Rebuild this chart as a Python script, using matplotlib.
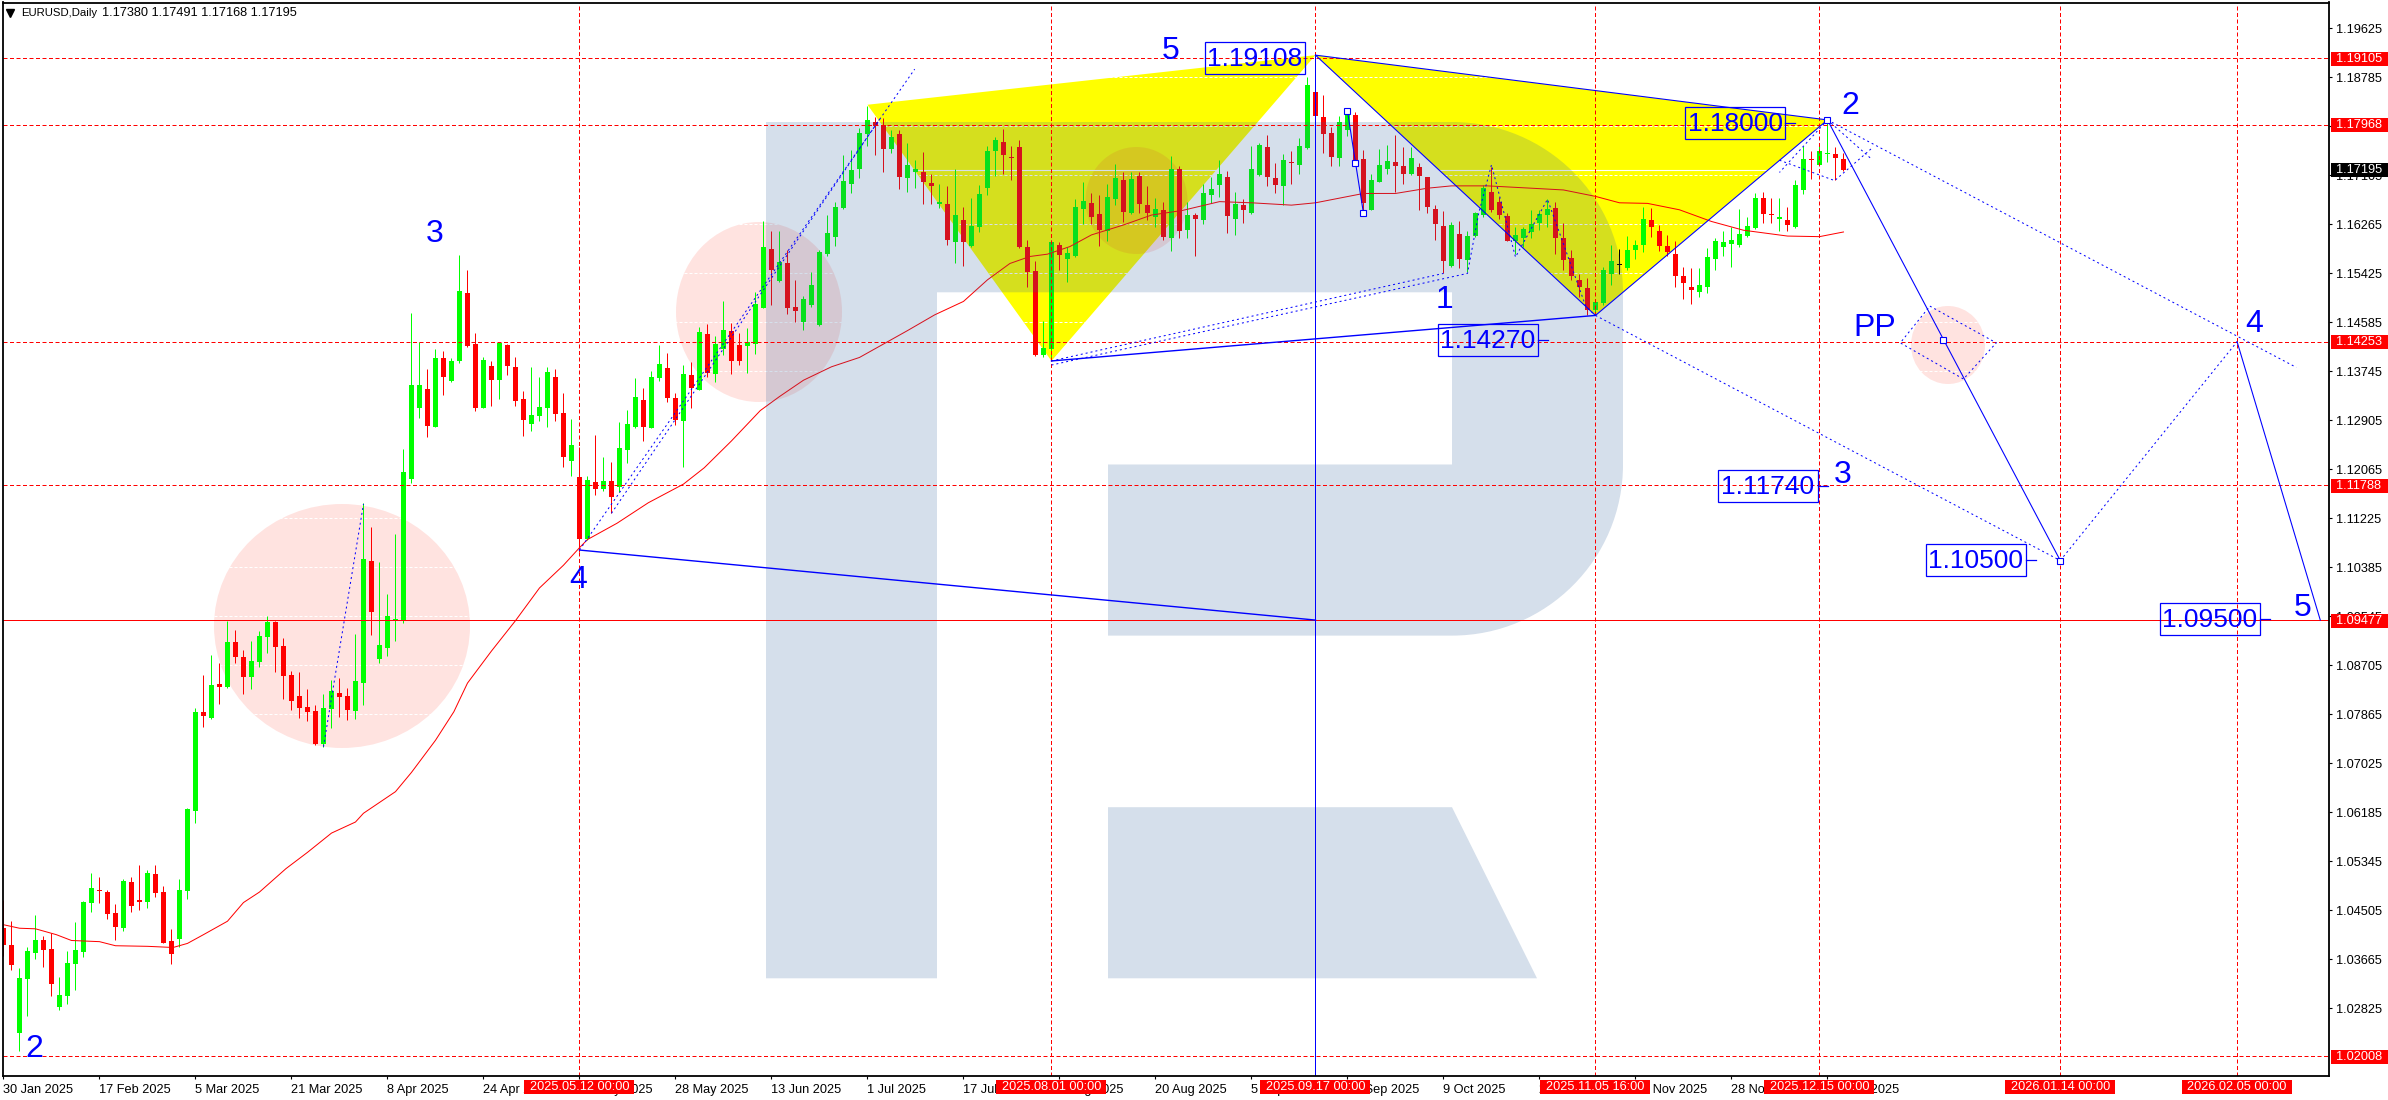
import matplotlib
matplotlib.use('Agg')
import matplotlib.pyplot as plt
from matplotlib.patches import Rectangle, Ellipse, PathPatch
from matplotlib.path import Path
from matplotlib.transforms import Affine2D
import numpy as np

plt.rcParams['font.family'] = ['Liberation Sans', 'DejaVu Sans']

# daily candles, 30 Jan 2025 to the last bar
opens = [
    1.0421,1.0392,1.0241,1.0333,1.0378,1.0400,1.0385,1.0285,1.0304,1.0359,
    1.0380,1.0463,1.0485,1.0482,1.0446,1.0421,1.0499,1.0468,1.0465,1.0513,
    1.0482,1.0398,1.0402,1.0484,1.0621,1.0790,1.0781,1.0839,1.0833,1.0910,
    1.0885,1.0850,1.0877,1.0919,1.0945,1.0903,1.0854,1.0818,1.0799,1.0792,
    1.0736,1.0796,1.0823,1.0818,1.0792,1.0841,1.1050,1.0881,1.0901,1.0948,
    1.0946,1.1189,1.1312,1.1344,1.1279,1.1397,1.1358,1.1392,1.1509,1.1421,
    1.1312,1.1383,1.1360,1.1419,1.1381,1.1327,1.1284,1.1298,1.1312,1.1364,
    1.1302,1.1220,1.1193,1.1087,1.1184,1.1173,1.1186,1.1176,1.1239,1.1279,
    1.1325,1.1277,1.1363,1.1380,1.1329,1.1289,1.1368,1.1342,1.1438,1.1370,
    1.1413,1.1443,1.1419,1.1418,1.1421,1.1483,1.1584,1.1529,1.1560,1.1484,
    1.1458,1.1488,1.1454,1.1575,1.1605,1.1654,1.1696,1.1721,1.1781,1.1801,
    1.1797,1.1755,1.1781,1.1705,1.1715,1.1716,1.1697,1.1661,1.1661,1.1596,
    1.1634,1.1589,1.1622,1.1689,1.1752,1.1767,1.1740,1.1759,1.1587,1.1546,
    1.1402,1.1413,1.1591,1.1567,1.1571,1.1652,1.1662,1.1644,1.1615,1.1670,
    1.1702,1.1646,1.1709,1.1659,1.1639,1.1651,1.1603,1.1721,1.1616,1.1642,
    1.1634,1.1676,1.1694,1.1707,1.1635,1.1659,1.1645,1.1711,1.1759,1.1705,
    1.1692,1.1733,1.1728,1.1757,1.1853,1.1810,1.1783,1.1739,1.1788,1.1813,
    1.1738,1.1651,1.1699,1.1721,1.1733,1.1726,1.1712,1.1724,1.1707,1.1652,
    1.1623,1.1555,1.1610,1.1565,1.1606,1.1642,1.1682,1.1664,1.1640,1.1597,
    1.1602,1.1613,1.1628,1.1642,1.1654,1.1602,1.1568,1.1531,1.1517,1.1479,
    1.1491,1.1541,1.1556,1.1552,1.1582,1.1590,1.1634,1.1615,1.1589,1.1575,
    1.1538,1.1518,1.1511,1.1518,1.1567,1.1588,1.1592,1.1591,1.1606,1.1619,
    1.1671,1.1643,1.1635,1.1634,1.1621,1.1685,1.1738,1.1728,1.1747,1.1747,1.1738]
closes = [
    1.0392,1.0357,1.0335,1.0381,1.0400,1.0383,1.0325,1.0306,1.0361,1.0383,
    1.0465,1.0489,1.0483,1.0444,1.0422,1.0501,1.0458,1.0465,1.0515,1.0481,
    1.0395,1.0375,1.0485,1.0624,1.0790,1.0783,1.0837,1.0833,1.0910,1.0885,
    1.0850,1.0878,1.0921,1.0945,1.0902,1.0852,1.0809,1.0798,1.0790,1.0736,
    1.0798,1.0826,1.0816,1.0794,1.0843,1.1053,1.0962,1.0905,1.0955,1.0950,
    1.1201,1.1351,1.1351,1.1281,1.1397,1.1364,1.1392,1.1512,1.1418,1.1312,
    1.1394,1.1360,1.1423,1.1383,1.1323,1.1291,1.1300,1.1313,1.1373,1.1301,
    1.1227,1.1248,1.1087,1.1188,1.1173,1.1186,1.1159,1.1243,1.1284,1.1330,
    1.1279,1.1364,1.1387,1.1329,1.1291,1.1370,1.1346,1.1441,1.1372,1.1421,
    1.1445,1.1392,1.1392,1.1425,1.1489,1.1587,1.1547,1.1561,1.1483,1.1478,
    1.1499,1.1522,1.1579,1.1611,1.1656,1.1700,1.1719,1.1783,1.1805,1.1795,
    1.1755,1.1775,1.1708,1.1727,1.1721,1.1698,1.1691,1.1665,1.1599,1.1642,
    1.1595,1.1623,1.1678,1.1752,1.1771,1.1745,1.1739,1.1587,1.1545,1.1403,
    1.1414,1.1596,1.1574,1.1577,1.1656,1.1666,1.1639,1.1617,1.1673,1.1705,
    1.1647,1.1704,1.1661,1.1645,1.1652,1.1605,1.1721,1.1615,1.1642,1.1635,
    1.1680,1.1687,1.1712,1.1640,1.1661,1.1651,1.1721,1.1762,1.1707,1.1694,
    1.1736,1.1731,1.1760,1.1865,1.1811,1.1781,1.1742,1.1801,1.1815,1.1736,
    1.1662,1.1702,1.1728,1.1735,1.1726,1.1713,1.1740,1.1709,1.1656,1.1627,
    1.1564,1.1625,1.1567,1.1606,1.1646,1.1689,1.1651,1.1642,1.1598,1.1608,
    1.1618,1.1627,1.1643,1.1652,1.1602,1.1565,1.1537,1.1519,1.1479,1.1493,
    1.1548,1.1563,1.1556,1.1582,1.1591,1.1636,1.1621,1.1589,1.1578,1.1537,
    1.1526,1.1514,1.1522,1.1570,1.1598,1.1596,1.1599,1.1610,1.1623,1.1671,
    1.1644,1.1642,1.1639,1.1625,1.1694,1.1738,1.1736,1.1752,1.1748,1.1740,1.1720]
highs = [
    1.0468,1.0433,1.0351,1.0388,1.0443,1.0406,1.0412,1.0336,1.0381,1.0430,
    1.0466,1.0515,1.0507,1.0485,1.0461,1.0504,1.0507,1.0528,1.0519,1.0528,
    1.0493,1.0419,1.0504,1.0626,1.0798,1.0854,1.0888,1.0874,1.0947,1.0931,
    1.0897,1.0912,1.0929,1.0955,1.0947,1.0917,1.0861,1.0859,1.0830,1.0802,
    1.0821,1.0845,1.0849,1.0831,1.0924,1.1148,1.1108,1.1048,1.0993,1.1096,
    1.1241,1.1474,1.1425,1.1378,1.1413,1.1409,1.1397,1.1574,1.1548,1.1440,
    1.1399,1.1392,1.1424,1.1421,1.1399,1.1340,1.1381,1.1364,1.1381,1.1378,
    1.1337,1.1293,1.1244,1.1195,1.1265,1.1227,1.1219,1.1287,1.1308,1.1363,
    1.1346,1.1375,1.1420,1.1406,1.1337,1.1385,1.1390,1.1450,1.1455,1.1435,
    1.1495,1.1457,1.1440,1.1449,1.1510,1.1631,1.1615,1.1615,1.1582,1.1530,
    1.1503,1.1544,1.1582,1.1642,1.1664,1.1745,1.1754,1.1791,1.1829,1.1810,
    1.1808,1.1788,1.1788,1.1765,1.1736,1.1750,1.1713,1.1696,1.1692,1.1721,
    1.1656,1.1671,1.1694,1.1760,1.1776,1.1789,1.1760,1.1771,1.1599,1.1563,
    1.1461,1.1599,1.1596,1.1587,1.1669,1.1698,1.1679,1.1676,1.1696,1.1729,
    1.1716,1.1715,1.1715,1.1692,1.1671,1.1665,1.1743,1.1726,1.1665,1.1646,
    1.1696,1.1708,1.1736,1.1717,1.1682,1.1669,1.1760,1.1765,1.1779,1.1731,
    1.1746,1.1751,1.1774,1.1878,1.1853,1.1848,1.1793,1.1812,1.1815,1.1819,
    1.1754,1.1712,1.1755,1.1762,1.1779,1.1759,1.1759,1.1731,1.1708,1.1660,
    1.1649,1.1630,1.1632,1.1615,1.1648,1.1694,1.1725,1.1673,1.1646,1.1622,
    1.1621,1.1650,1.1650,1.1669,1.1665,1.1628,1.1582,1.1541,1.1534,1.1494,
    1.1553,1.1591,1.1583,1.1606,1.1599,1.1655,1.1654,1.1625,1.1608,1.1598,
    1.1553,1.1552,1.1551,1.1585,1.1602,1.1614,1.1622,1.1652,1.1639,1.1679,
    1.1682,1.1671,1.1671,1.1656,1.1702,1.1760,1.1751,1.1765,1.1802,1.1759,1.1749]
lows = [
    1.0372,1.0349,1.0210,1.0269,1.0367,1.0353,1.0304,1.0280,1.0290,1.0315,
    1.0371,1.0447,1.0464,1.0435,1.0400,1.0415,1.0448,1.0452,1.0455,1.0473,
    1.0395,1.0359,1.0387,1.0470,1.0600,1.0764,1.0779,1.0804,1.0831,1.0875,
    1.0821,1.0830,1.0868,1.0892,1.0859,1.0813,1.0794,1.0780,1.0775,1.0734,
    1.0731,1.0763,1.0782,1.0777,1.0779,1.0802,1.0923,1.0875,1.0886,1.0912,
    1.0943,1.1183,1.1294,1.1261,1.1279,1.1334,1.1356,1.1389,1.1416,1.1306,
    1.1312,1.1315,1.1326,1.1368,1.1315,1.1263,1.1272,1.1289,1.1279,1.1289,
    1.1210,1.1195,1.1065,1.1085,1.1162,1.1169,1.1131,1.1167,1.1217,1.1277,
    1.1255,1.1277,1.1358,1.1321,1.1282,1.1210,1.1312,1.1342,1.1364,1.1356,
    1.1402,1.1370,1.1385,1.1372,1.1404,1.1483,1.1488,1.1527,1.1473,1.1459,
    1.1445,1.1485,1.1452,1.1571,1.1589,1.1652,1.1679,1.1706,1.1760,1.1745,
    1.1716,1.1748,1.1686,1.1682,1.1688,1.1661,1.1661,1.1654,1.1591,1.1559,
    1.1555,1.1588,1.1613,1.1677,1.1709,1.1713,1.1702,1.1585,1.1518,1.1401,
    1.1399,1.1394,1.1547,1.1527,1.1570,1.1626,1.1627,1.1589,1.1598,1.1660,
    1.1630,1.1643,1.1646,1.1634,1.1621,1.1600,1.1581,1.1602,1.1602,1.1572,
    1.1627,1.1663,1.1673,1.1612,1.1607,1.1628,1.1644,1.1709,1.1691,1.1679,
    1.1659,1.1696,1.1713,1.1755,1.1805,1.1748,1.1726,1.1726,1.1777,1.1731,
    1.1645,1.1650,1.1699,1.1712,1.1682,1.1696,1.1711,1.1651,1.1646,1.1599,
    1.1542,1.1553,1.1551,1.1545,1.1605,1.1639,1.1648,1.1635,1.1597,1.1576,
    1.1588,1.1602,1.1616,1.1622,1.1575,1.1548,1.1531,1.1502,1.1471,1.1471,
    1.1488,1.1522,1.1541,1.1547,1.1566,1.1578,1.1604,1.1581,1.1571,1.1518,
    1.1498,1.1490,1.1501,1.1509,1.1547,1.1571,1.1553,1.1588,1.1605,1.1618,
    1.1628,1.1628,1.1615,1.1614,1.1620,1.1678,1.1703,1.1727,1.1733,1.1702,1.1717]

# moving average, sampled where it could be read
ma_bars = [0,2,4,6.6,8.5,12,14,18,21.2,23,25,28,30,32,35.3,38,41,44,45,49,51,54,56.3,58,61,64,67,70,72,
           73,76.7,80.6,85,87.6,91,94.6,97,100,103.5,107,113,116.4,120,123,125.8,128.3,130.5,133.3,136,
           140,143.5,147.4,152,156,161,164,168.5,170,174,178,181,185.5,191,195,199,202,205.5,209.5,213.5,
           217.5,223,227,230]
ma_values = [1.0426,1.0420,1.0419,1.0409,1.0399,1.0397,1.0390,1.0389,1.0387,1.0394,1.0409,1.0432,1.0464,
             1.0482,1.0522,1.0550,1.0583,1.0602,1.0617,1.0654,1.0687,1.0742,1.0791,1.0840,1.0895,1.0947,
             1.1003,1.1042,1.1072,1.1086,1.1114,1.1149,1.1181,1.1209,1.1255,1.1307,1.1331,1.1359,1.1382,
             1.1398,1.1444,1.1471,1.1494,1.1531,1.1559,1.1571,1.1575,1.1588,1.1608,1.1625,1.1642,1.1650,
             1.1665,1.1663,1.1659,1.1663,1.1675,1.1679,1.1679,1.1688,1.1692,1.1692,1.1688,1.1685,1.1674,
             1.1663,1.1662,1.1651,1.1631,1.1616,1.1606,1.1605,1.1613]

# wave drawing: bar index and price of every vertex
yellow_left = ([108, 164, 131], [1.1831, 1.1916, 1.1392])
yellow_right = ([164, 199, 228], [1.1916, 1.1470, 1.1805])
solid_waves = [
    ([164, 199, 228, 164], [1.1916, 1.1470, 1.1805, 1.1916]),
    ([228, 257.1], [1.1805, 1.1050]),
    ([279.2, 289.6], [1.1425, 1.0948]),
    ([168, 169, 170], [1.1820, 1.1732, 1.1645]),
]
thick_waves = [
    ([72, 164], [1.1068, 1.0948]),
    ([131, 199], [1.1392, 1.1470]),
]
dotted_waves = [
    ([40, 45], [1.0731, 1.1147]),
    ([72, 113.9], [1.1068, 1.1892]),
    ([76, 109.6], [1.1131, 1.1808]),
    ([131, 180], [1.1392, 1.1542]),
    ([131, 183, 184.4, 186, 189, 193, 197.8, 199], [1.1385, 1.1542, 1.1645, 1.1728, 1.1570, 1.1669, 1.1485, 1.1470]),
    ([199, 257.1], [1.1470, 1.1050]),
    ([228, 286.6], [1.1805, 1.1381]),
    ([257.1, 279.2], [1.1050, 1.1425]),
    ([240.8, 249.1, 245, 237.1, 240.8], [1.1486, 1.1423, 1.1361, 1.1423, 1.1486]),
    ([228, 222], [1.1805, 1.1715]),
    ([228, 233.5], [1.1805, 1.1738]),
    ([222, 228.9, 233.5], [1.1736, 1.1701, 1.1756]),
]
handle_bars = [168, 169, 170, 228, 242.5, 257.1]
handle_prices = [1.1820, 1.1732, 1.1645, 1.1805, 1.1428, 1.1050]

price_ticks = [1.19625 - 0.0084 * k for k in range(21)]
time_labels = ['30 Jan 2025', '17 Feb 2025', '5 Mar 2025', '21 Mar 2025', '8 Apr 2025', '24 Apr 2025',
               '12 May 2025', '28 May 2025', '13 Jun 2025', '1 Jul 2025', '17 Jul 2025', '4 Aug 2025',
               '20 Aug 2025', '5 Sep 2025', '23 Sep 2025', '9 Oct 2025', '27 Oct 2025', '12 Nov 2025',
               '28 Nov 2025', '16 Dec 2025']

dashed_prices = [1.19105, 1.17968, 1.14253, 1.11788, 1.02008]
solid_price = 1.09477
last_price = 1.17195
vline_bars = [72, 131, 164, 199, 227, 257.1, 279.2]
vline_labels = ['2025.05.12 00:00', '2025.08.01 00:00', '2025.09.17 00:00', '2025.11.05 16:00',
                '2025.12.15 00:00', '2026.01.14 00:00', '2026.02.05 00:00']

W, H = 2388, 1100
fig = plt.figure(figsize=(W / 100, H / 100), dpi=100, facecolor='white')
ax = fig.add_axes([3 / W, 1 - 1076 / H, (2329 - 3) / W, (1076 - 2.5) / H])
ax.set_xlim(-0.06, 290.69)
ax.set_ylim(1.01668, 1.20062)
px = Affine2D().scale(1, -1).translate(0, H)  # picture pixels, y going down


def to_px(bar, price):
    x, y = ax.transData.transform((bar, price))
    return x, H - y


bars = np.arange(len(opens))
o, c, h, l = map(np.array, (opens, closes, highs, lows))
colors = np.where(c > o, '#00ff00', np.where(c < o, '#ff0000', '#000000'))

# yellow triangles and pink circles sit behind the grid and the candles
for tx, ty in (yellow_left, yellow_right):
    ax.fill(tx, ty, color='#ffff00', lw=0, zorder=1)
for cx, cy, rx, ry in [(342, 626, 128, 122), (759, 312, 83, 90), (1136.5, 200.5, 51, 53.5), (1948, 345, 37, 39)]:
    ax.add_patch(Ellipse((cx, cy), 2 * rx, 2 * ry, facecolor='#ff2814', alpha=0.13, lw=0, transform=px, zorder=1.2))

# white grid, so it only shows up on the coloured areas
ax.hlines(price_ticks, -1, 292, colors='white', lw=0.72, linestyles=[(0, (3, 2))], zorder=2)
ax.axhline(last_price, color='white', lw=0.8, zorder=2)

ax.vlines(bars, l, h, colors=colors, lw=0.72, zorder=3)
ax.bar(bars, np.maximum(np.abs(c - o), 1 / 5836), bottom=np.minimum(o, c), width=0.62,
       color=colors, lw=0, zorder=3.1, antialiased=False)
ax.plot(ma_bars, ma_values, color='#ff0000', lw=0.72, zorder=3.2)

# big watermark letter
k = 0.5523 * 171
logo = Path(
    [(766, 122), (1452, 122), (1452 + k, 122), (1623, 292.3 - k), (1623, 292.3), (1623, 464.5),
     (1623, 464.5 + k), (1452 + k, 635.6), (1452, 635.6), (1108, 635.6), (1108, 464.5), (1452, 464.5),
     (1452, 292.3), (937, 292.3), (937, 978.3), (766, 978.3), (766, 122),
     (1108, 807.2), (1452, 807.2), (1537, 978.3), (1108, 978.3), (1108, 807.2)],
    [Path.MOVETO, Path.LINETO, Path.CURVE4, Path.CURVE4, Path.CURVE4, Path.LINETO,
     Path.CURVE4, Path.CURVE4, Path.CURVE4, Path.LINETO, Path.LINETO, Path.LINETO,
     Path.LINETO, Path.LINETO, Path.LINETO, Path.LINETO, Path.CLOSEPOLY,
     Path.MOVETO, Path.LINETO, Path.LINETO, Path.LINETO, Path.CLOSEPOLY])
ax.add_patch(PathPatch(logo, facecolor='#2d5f9b', alpha=0.2, lw=0, transform=px, zorder=4))

for p in dashed_prices:
    ax.axhline(p, color='#ff0000', lw=0.72, ls=(0, (4, 2.5)), zorder=5)
ax.axhline(solid_price, color='#ff0000', lw=0.72, zorder=5)
for b in vline_bars:
    ax.axvline(b, color='#ff0000', lw=0.72, ls=(0, (4, 2.5)), zorder=5)
ax.plot([164, 164], [1.1916, 1.01668], color='#0000ff', lw=0.72, zorder=5.1)

for wx, wy in solid_waves:
    ax.plot(wx, wy, color='#0000ff', lw=0.78, zorder=6)
for wx, wy in thick_waves:
    ax.plot(wx, wy, color='#0000ff', lw=1.0, zorder=6)
for wx, wy in dotted_waves:
    ax.plot(wx, wy, color='#0000ff', lw=0.72, ls=(0, (2, 3)), zorder=6)
ax.plot(handle_bars, handle_prices, ls='none', marker='s', ms=4, mfc='white', mec='#0000ff', mew=0.8, zorder=6.5)

# boxed price levels, x0 y0 is the box corner in picture pixels
for txt, x0, y0 in [('1.19108', 1205, 42), ('1.18000', 1685, 107), ('1.14270', 1437.5, 324),
                    ('1.11740', 1718, 470), ('1.10500', 1926, 544), ('1.09500', 2160, 603)]:
    ax.add_patch(Rectangle((x0, y0), 100, 32, fill=False, ec='#0000ff', lw=0.9, transform=px, zorder=7))
    ax.text(x0 + 50, y0 + 17, txt, color='#0000ff', fontsize=19, ha='center', va='center', transform=px, zorder=7)
    if txt != '1.19108':
        ax.plot([x0 + 100, x0 + 110], [y0 + 16, y0 + 16], color='#0000ff', lw=0.9, transform=px, zorder=7)

# wave counts
for txt, x, y in [('5', 1170.6, 50.7), ('3', 434.7, 234), ('4', 578, 580), ('2', 34, 1049), ('1', 1444, 300),
                  ('2', 1850.4, 105.7), ('PP', 1875, 328), ('3', 1843, 475), ('4', 2254, 324), ('5', 2303, 608)]:
    ax.text(x, y, txt, color='#0000ff', fontsize=23, ha='center', va='center', transform=px, zorder=7)

# axes
for s in ax.spines.values():
    s.set_linewidth(1.3)
    s.set_zorder(8)
ax.yaxis.tick_right()
ax.set_yticks(price_ticks)
ax.set_yticklabels(['%.5f' % p for p in price_ticks], fontsize=9.2)
ax.set_xticks(np.arange(len(time_labels)) * 12)
ax.set_xticklabels(time_labels, fontsize=9.2, ha='left')
ax.tick_params(axis='y', length=2.2, width=0.8, pad=3)
ax.tick_params(axis='x', length=2.2, width=0.8, pad=3.5)

# price and time tags
for p, col in [(q, '#ff0000') for q in dashed_prices + [solid_price]] + [(last_price, '#000000')]:
    _, y = to_px(0, p)
    ax.add_patch(Rectangle((2330.5, y - 6.5), 57, 14, fc=col, ec='none', transform=px, clip_on=False, zorder=10))
    ax.text(2336, y + 0.5, '%.5f' % p, color='white', fontsize=9.2, va='center', transform=px, clip_on=False, zorder=11)
for b, txt in zip(vline_bars, vline_labels):
    x, _ = to_px(b, 1.1)
    ax.add_patch(Rectangle((x - 55, 1080), 110, 14, fc='#ff0000', ec='none', transform=px, clip_on=False, zorder=10))
    ax.text(x, 1087.5, txt, color='white', fontsize=9.2, ha='center', va='center', transform=px, clip_on=False, zorder=11)

# header
ax.plot([10], [12.5], marker='v', ms=6, color='black', transform=px, zorder=9)
ax.text(21, 13, 'EURUSD,Daily', fontsize=8.2, va='center', transform=px, zorder=9)
ax.text(102, 13, '1.17380 1.17491 1.17168 1.17195', fontsize=9.2, va='center', transform=px, zorder=9)

fig.savefig('out.png', dpi=100)
plt.close()
